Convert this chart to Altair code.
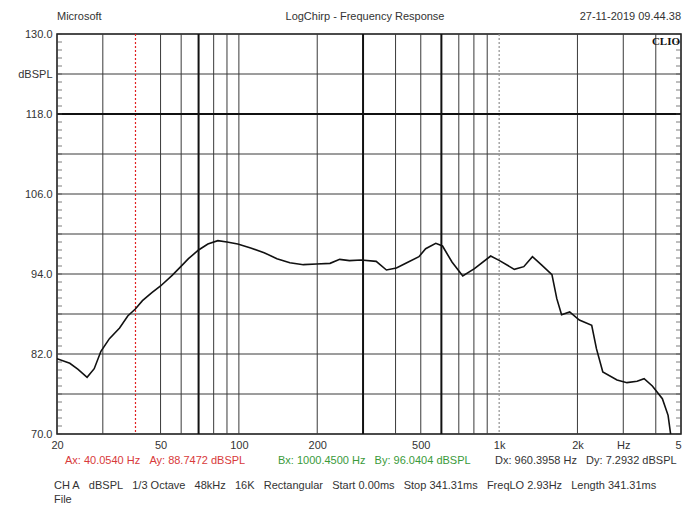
import altair as alt
import pandas as pd

# ---- data ----
freq = [20, 22.4, 24.1, 26.1, 27.8, 29.5, 31.8, 34.8, 37.4, 40, 42.6, 46.3, 50,
        55.4, 59.4, 64, 70, 76, 83, 90, 99, 111, 125, 140, 157, 177, 199, 224,
        244, 266, 295, 337, 369, 403, 438, 492, 522, 571, 606, 659, 725, 804,
        928, 1000, 1144, 1244, 1343, 1462, 1596, 1666, 1738, 1867, 2034, 2269,
        2366, 2503, 2839, 3100, 3390, 3608, 3880, 4240, 4460, 4550, 4600]
spl = [81.3, 80.6, 79.7, 78.5, 79.8, 82.4, 84.3, 85.9, 87.7, 88.75, 90.0, 91.2,
       92.2, 93.8, 95.0, 96.3, 97.6, 98.5, 99.0, 98.8, 98.5, 97.9, 97.2, 96.3,
       95.7, 95.4, 95.5, 95.6, 96.2, 96.0, 96.1, 95.9, 94.6, 94.9, 95.6, 96.6,
       97.8, 98.6, 98.2, 95.8, 93.7, 94.8, 96.7, 96.04, 94.7, 95.1, 96.6, 95.3,
       93.9, 90.3, 87.9, 88.3, 87.1, 86.3, 82.8, 79.3, 78.1, 77.7, 77.9, 78.3,
       77.2, 75.3, 72.8, 70.3, 69.0]

grid_f = [30, 50, 60, 80, 90, 100, 200, 400, 500, 700, 800, 900, 2000, 3000, 4000]
grid_f_bold = [70, 300, 600]
cursor_a = [40.054]
cursor_b = [1000.45]
grid_db = [76, 82, 88, 94, 100, 106, 112, 124]
grid_db_bold = [118]
minor_db = [round(70 + 1.2 * i, 1) for i in range(51)]

x_ticks = [20, 50, 100, 200, 500, 1000, 2000, 3000, 5000]
y_ticks = [70, 82, 94, 106, 118, 124, 130]

S3 = "\u00a0\u00a0\u00a0"
header_left = ["Microsoft"]
header_mid = ["LogChirp - Frequency Response"]
header_right = ["27-11-2019 09.44.38"]
cursor_a_txt = ["Ax: 40.0540 Hz" + S3 + "Ay: 88.7472 dBSPL"]
cursor_b_txt = ["Bx: 1000.4500 Hz" + S3 + "By: 96.0404 dBSPL"]
cursor_d_txt = ["Dx: 960.3958 Hz" + S3 + "Dy: 7.2932 dBSPL"]
info_parts = ["CH A", "dBSPL", "1/3 Octave", "48kHz", "16K", "Rectangular",
              "Start 0.00ms", "Stop 341.31ms", "FreqLO 2.93Hz", "Length 341.31ms"]
info_txt = [S3.join(info_parts)]
file_txt = ["File"]
brand_txt = ["CLIO"]

FONT = "Liberation Sans"
FS = 11
W, H = 624, 400
xs = alt.Scale(type="log", domain=[20, 5000], nice=False)
ys = alt.Scale(domain=[70, 130], nice=False, zero=False)

xaxis = alt.Axis(values=x_ticks, grid=False, ticks=False, domain=False,
                 labelFont=FONT, labelFontSize=FS, labelColor="#333333",
                 labelPadding=5, labelFlush=False, labelOverlap=False,
                 labelAlign=alt.condition("datum.value == 5000", alt.value("right"), alt.value("center")),
                 labelExpr="datum.value == 1000 ? '1k' : datum.value == 2000 ? '2k' : datum.value == 3000 ? 'Hz' : datum.value == 5000 ? '5' : format(datum.value, 'd')")
yaxis = alt.Axis(values=y_ticks, grid=False, ticks=False, domain=False,
                 labelFont=FONT, labelFontSize=FS, labelColor="#333333",
                 labelPadding=5, labelFlush=False, labelOverlap=False,
                 labelExpr="datum.value == 124 ? 'dBSPL' : format(datum.value, '.1f')")


def vrules(vals, **kw):
    return alt.Chart(pd.DataFrame({"f": vals})).mark_rule(**kw).encode(
        x=alt.X("f:Q", scale=xs, axis=xaxis, title=None))


def hrules(vals, **kw):
    return alt.Chart(pd.DataFrame({"d": vals})).mark_rule(**kw).encode(
        y=alt.Y("d:Q", scale=ys, axis=yaxis, title=None))


def txt(vals, x, y, color="#333333", align="left", size=FS, font=FONT, weight="normal"):
    return alt.Chart(pd.DataFrame({"t": vals})).mark_text(
        align=align, baseline="middle", fontSize=size, font=font,
        color=color, fontWeight=weight).encode(
        text="t:N", x=alt.value(x), y=alt.value(y))


grid = vrules(grid_f, color="#3a3a3a", strokeWidth=1)
grid_b = vrules(grid_f_bold, color="#111111", strokeWidth=2)
cur_a = vrules(cursor_a, color="#e02020", strokeWidth=1.2, strokeDash=[2, 2])
cur_b = vrules(cursor_b, color="#909090", strokeWidth=1.2, strokeDash=[2, 2])
hgrid = hrules(grid_db, color="#3a3a3a", strokeWidth=1)
hgrid_b = hrules(grid_db_bold, color="#111111", strokeWidth=2)

minor_df = pd.DataFrame({"d": minor_db})
ticks_l = alt.Chart(minor_df).mark_tick(orient="horizontal", size=5, color="#444444",
                                        thickness=1).encode(
    y=alt.Y("d:Q", scale=ys, axis=yaxis, title=None), x=alt.value(2.5))
ticks_r = alt.Chart(minor_df).mark_tick(orient="horizontal", size=5, color="#444444",
                                        thickness=1).encode(
    y=alt.Y("d:Q", scale=ys, axis=yaxis, title=None), x=alt.value(W - 2.5))

curve = alt.Chart(pd.DataFrame({"f": freq, "spl": spl})).mark_line(
    color="#111111", strokeWidth=1.6, clip=True).encode(
    x=alt.X("f:Q", scale=xs, title=None, axis=xaxis),
    y=alt.Y("spl:Q", scale=ys, title=None, axis=yaxis),
)

texts = [
    txt(header_left, 0, -17),
    txt(header_mid, 308, -17, align="center"),
    txt(header_right, W, -17, align="right"),
    txt(brand_txt, W - 1, 8, color="#111111", align="right", size=11,
        font="Liberation Serif", weight="bold"),
    txt(cursor_a_txt, 8, 427, color="#d83a3a"),
    txt(cursor_b_txt, 221, 427, color="#3a9a3a"),
    txt(cursor_d_txt, 438, 427, color="#333333"),
    txt(info_txt, -3, 452),
    txt(file_txt, -3, 466),
]

chart = alt.layer(
    hgrid, grid, cur_a, cur_b, grid_b, hgrid_b, ticks_l, ticks_r, curve, *texts
).properties(
    width=W, height=H,
    autosize=alt.AutoSizeParams(type="none"),
    padding={"left": 49, "top": 26, "right": 1, "bottom": 70},
    background="white",
).configure_view(stroke="#111111", strokeWidth=1.5)

chart.save("out.html", embed_options={"renderer": "svg", "actions": False})
